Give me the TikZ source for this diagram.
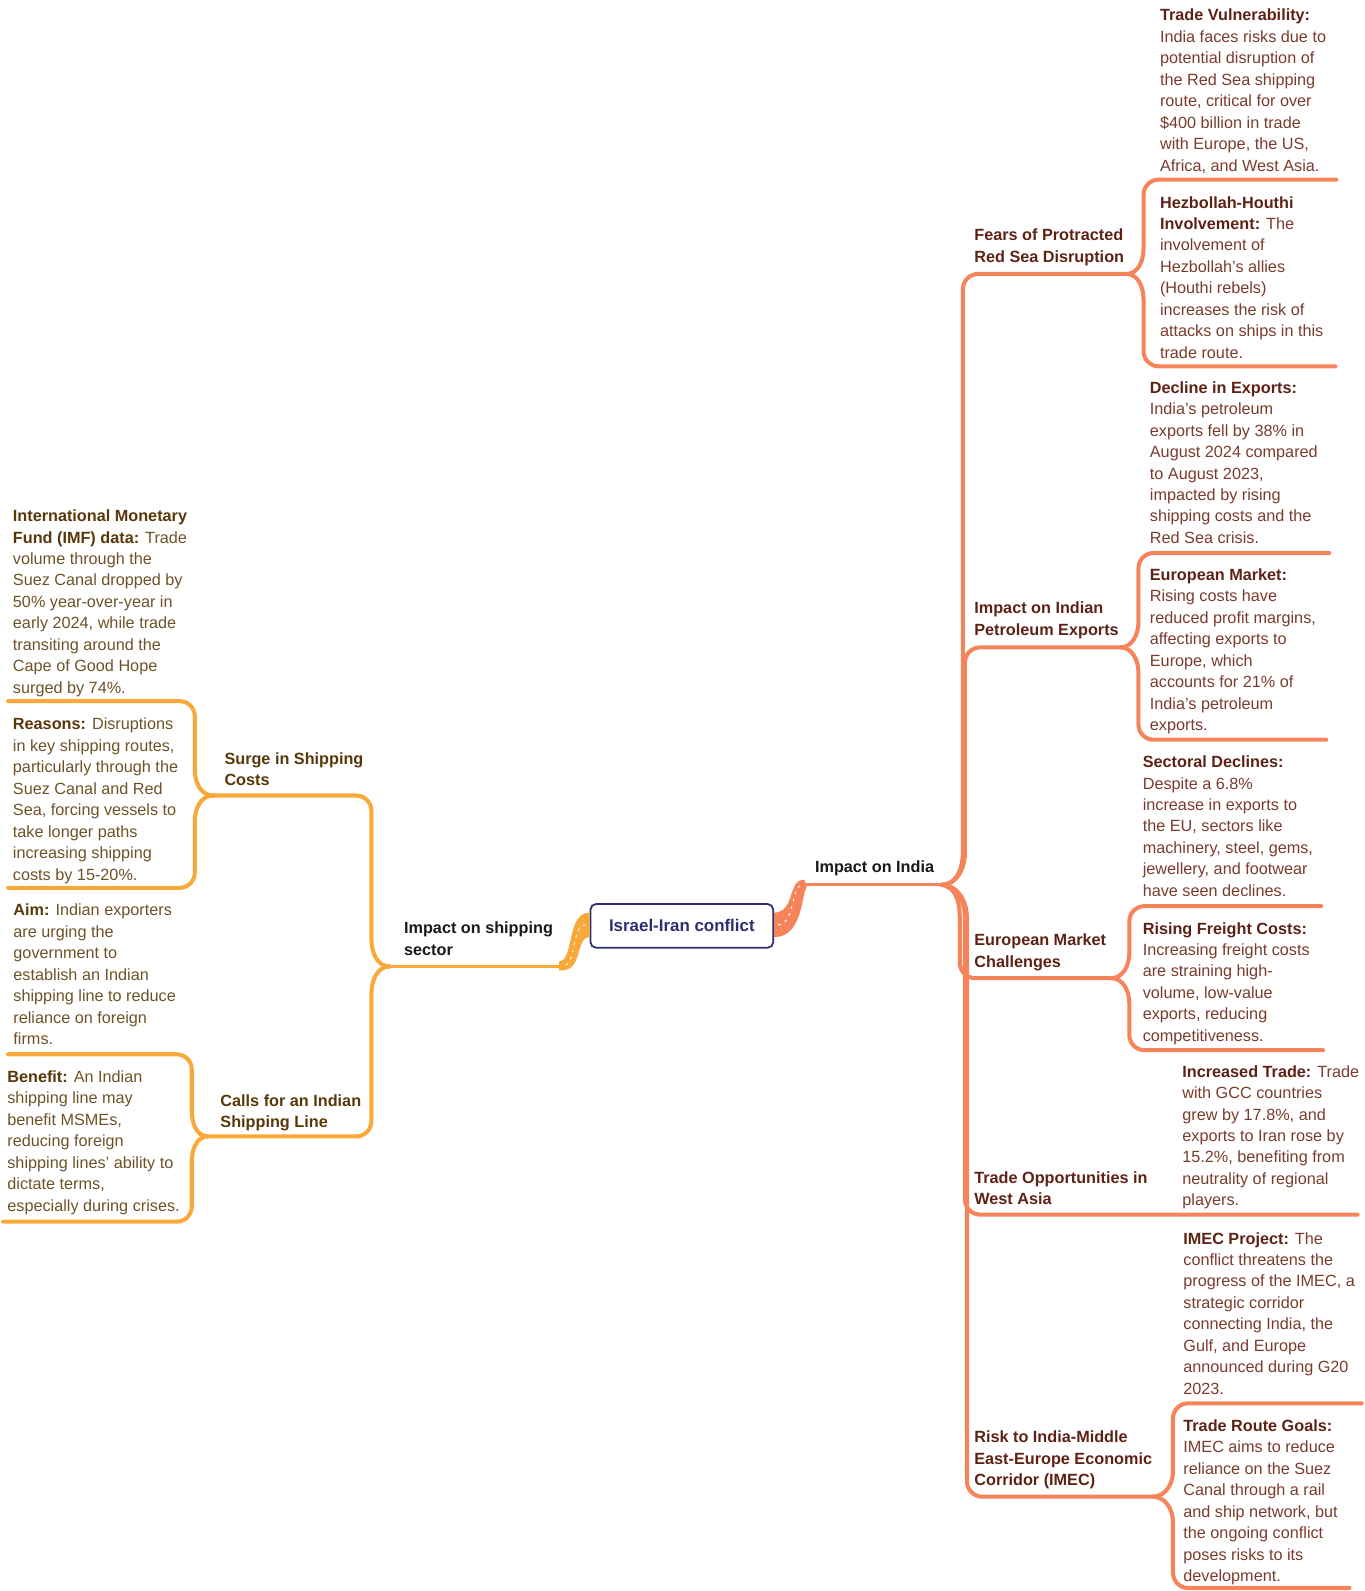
\documentclass[tikz,border=0pt]{standalone}
\usepackage{fontspec}
\setmainfont{Liberation Sans}
\usetikzlibrary{calc}

\definecolor{coral}{HTML}{F5845A}
\definecolor{amber}{HTML}{F9A93A}
\definecolor{navy}{HTML}{2C2D6E}
\definecolor{redhead}{HTML}{5E2214}
\definecolor{redtext}{HTML}{7A3B2C}
\definecolor{brownhead}{HTML}{583808}
\definecolor{browntext}{HTML}{6E5226}

\newcommand{\keyR}[1]{{\bfseries\color{redhead}#1}}
\newcommand{\keyL}[1]{{\bfseries\color{brownhead}#1}}

\begin{document}
\begin{tikzpicture}[x=0.75pt, y=-0.75pt,
    txt/.style={anchor=base west, align=left, inner sep=0pt, font=\fontsize{12pt}{15.86pt}\selectfont},
    nrows/.style={yshift=-(#1-1)*15.86pt},
    leafR/.style={txt, text=redtext},
    leafL/.style={txt, text=browntext},
    topicR/.style={txt, text=redhead, font=\fontsize{12pt}{15.86pt}\selectfont\bfseries},
    topicL/.style={txt, text=brownhead, font=\fontsize{12pt}{15.86pt}\selectfont\bfseries},
    mainlbl/.style={txt, text=black!90, font=\fontsize{12pt}{15.86pt}\selectfont\bfseries},
    lineR/.style={draw=coral, line width=3pt, line cap=round},
    lineL/.style={draw=amber, line width=3pt, line cap=round},
    stemR/.style={lineR, line width=2.2pt},
    stemL/.style={lineL, line width=2.2pt},
    hatch/.style={white, line width=0.7pt, dash pattern=on 2pt off 3.5pt}]
    \useasboundingbox (0,0) rectangle (1345,1568);

    % junctions and line ends
    \coordinate (jR) at (928,872);
    \coordinate (indiaS) at (791,872);
    \coordinate (fearsS) at (1110,270);
    \coordinate (petroS) at (1104,638);
    \coordinate (euroS) at (1095,964);
    \coordinate (tradeE) at (1338,1197);
    \coordinate (imecS) at (1136,1475);
    \coordinate (vulnE) at (1317,177);
    \coordinate (hezbE) at (1316,361);
    \coordinate (declE) at (1310,545);
    \coordinate (emktE) at (1307,729);
    \coordinate (sectE) at (1302,893);
    \coordinate (freightE) at (1304,1035);
    \coordinate (imecpE) at (1342,1383);
    \coordinate (goalsE) at (1330,1565);
    \coordinate (jL) at (384,952.5);
    \coordinate (shipS) at (552,952.5);
    \coordinate (surgeS) at (210,784);
    \coordinate (callsS) at (205,1120);
    \coordinate (imfE) at (8,691);
    \coordinate (reasE) at (8,875);
    \coordinate (aimE) at (8,1039);
    \coordinate (beneE) at (3,1204);

    % right side
    \draw[stemR] (indiaS) -- (jR);
    \draw[lineR] (jR) to[out=0,in=-90] (949,840) -- (949,285) to[out=90,in=180] (964,270) -- (fearsS);
    \draw[lineR] (fearsS) to[out=0,in=-90] (1127,245) -- (1127,192) to[out=90,in=180] (1142,177) -- (vulnE);
    \draw[lineR] (fearsS) to[out=0,in=90] (1127,295) -- (1127,346) to[out=-90,in=180] (1142,361) -- (hezbE);
    \draw[lineR] (jR) to[out=0,in=-90] (951,840) -- (951,653) to[out=90,in=180] (966,638) -- (petroS);
    \draw[lineR] (petroS) to[out=0,in=-90] (1122,613) -- (1122,560) to[out=90,in=180] (1137,545) -- (declE);
    \draw[lineR] (petroS) to[out=0,in=90] (1122,663) -- (1122,714) to[out=-90,in=180] (1137,729) -- (emktE);
    \draw[lineR] (jR) to[out=-10,in=90] (946,920) -- (946,949) to[out=-90,in=180] (961,964) -- (euroS);
    \draw[lineR] (euroS) to[out=0,in=-90] (1113,939) -- (1113,908) to[out=90,in=180] (1128,893) -- (sectE);
    \draw[lineR] (euroS) to[out=0,in=90] (1113,989) -- (1113,1020) to[out=-90,in=180] (1128,1035) -- (freightE);
    \draw[lineR] (jR) to[out=0,in=90] (951,905) -- (951,1182) to[out=-90,in=180] (966,1197) -- (tradeE);
    \draw[lineR] (jR) to[out=0,in=90] (953,905) -- (953,1460) to[out=-90,in=180] (968,1475) -- (imecS);
    \draw[lineR] (imecS) to[out=0,in=-90] (1156,1450) -- (1156,1398) to[out=90,in=180] (1171,1383) -- (imecpE);
    \draw[lineR] (imecS) to[out=0,in=90] (1156,1500) -- (1156,1550) to[out=-90,in=180] (1171,1565) -- (goalsE);

    % left side
    \draw[stemL] (shipS) -- (jL);
    \draw[lineL] (jL) to[out=180,in=-90] (366,925) -- (366,799) to[out=90,in=0] (351,784) -- (surgeS);
    \draw[lineL] (surgeS) to[out=180,in=-90] (192,759) -- (192,706) to[out=90,in=0] (177,691) -- (imfE);
    \draw[lineL] (surgeS) to[out=180,in=90] (192,809) -- (192,860) to[out=-90,in=0] (177,875) -- (reasE);
    \draw[lineL] (jL) to[out=180,in=90] (366,980) -- (366,1105) to[out=-90,in=0] (351,1120) -- (callsS);
    \draw[lineL] (callsS) to[out=180,in=-90] (189,1095) -- (189,1054) to[out=90,in=0] (174,1039) -- (aimE);
    \draw[lineL] (callsS) to[out=180,in=90] (189,1145) -- (189,1189) to[out=-90,in=0] (174,1204) -- (beneE);

    % root and its two tapered stems
    \node[draw=navy, line width=1.3pt, rounded corners=4pt, fill=white, minimum width=135pt, minimum height=32.25pt,
          text=navy, font=\fontsize{12.5pt}{15pt}\selectfont\bfseries] (root) at (672,912.5) {Israel-Iran conflict};
    \fill[coral] ($(root.east)+(0,-13)$) .. controls (784,899) and (776,866) .. ($(indiaS)+(2,-5)$)
        -- ($(indiaS)+(4,3)$) .. controls (790,878) and (792,924) .. ($(root.east)+(0,11)$) -- cycle;
    \draw[hatch] ($(root.east)+(4,-1)$) .. controls (783,911) and (780,874) .. ($(indiaS)+(-1,0)$);
    \fill[amber] ($(root.west)+(0,-13)$) .. controls (558,899) and (566,947) .. ($(shipS)+(-1,-5)$)
        -- ($(shipS)+(-1,4)$) .. controls (576,958) and (566,924) .. ($(root.west)+(0,11)$) -- cycle;
    \draw[hatch] ($(root.west)+(-4,-1)$) .. controls (563,911) and (569,951) .. ($(shipS)+(2,0)$);

    % main branch labels
    \node[mainlbl] (india) at (803,860) {Impact on India};
    \node[mainlbl, nrows=2] (ship) at (398,920.3) {Impact on shipping\\sector};

    % right subtopics
    \node[topicR, nrows=2] (fears) at (960,237.5) {Fears of Protracted\\Red Sea Disruption};
    \node[topicR, nrows=2] (petro) at (960,605) {Impact on Indian\\Petroleum Exports};
    \node[topicR, nrows=2] (euro) at (960,932) {European Market\\Challenges};
    \node[topicR, nrows=2] (trade) at (960,1166) {Trade Opportunities in\\West Asia};
    \node[topicR, nrows=3] (imec) at (960,1422) {Risk to India-Middle\\East-Europe Economic\\Corridor (IMEC)};

    % right leaves
    \node[leafR, nrows=8] (vuln) at (1143,20.5) {\keyR{Trade Vulnerability:}\\India faces risks due to\\potential disruption of\\the Red Sea shipping\\route, critical for over\\\$400 billion in trade\\with Europe, the US,\\Africa, and West Asia.};
    \node[leafR, nrows=8] (hezb) at (1143,205) {\keyR{Hezbollah-Houthi}\\\keyR{Involvement:} The\\involvement of\\Hezbollah's allies\\(Houthi rebels)\\increases the risk of\\attacks on ships in this\\trade route.};
    \node[leafR, nrows=8] (decl) at (1133,387.5) {\keyR{Decline in Exports:}\\India's petroleum\\exports fell by 38\% in\\August 2024 compared\\to August 2023,\\impacted by rising\\shipping costs and the\\Red Sea crisis.};
    \node[leafR, nrows=8] (emkt) at (1133,572) {\keyR{European Market:}\\Rising costs have\\reduced profit margins,\\affecting exports to\\Europe, which\\accounts for 21\% of\\India's petroleum\\exports.};
    \node[leafR, nrows=7] (sect) at (1126,756.5) {\keyR{Sectoral Declines:}\\Despite a 6.8\%\\increase in exports to\\the EU, sectors like\\machinery, steel, gems,\\jewellery, and footwear\\have seen declines.};
    \node[leafR, nrows=6] (freight) at (1126,920.5) {\keyR{Rising Freight Costs:}\\Increasing freight costs\\are straining high-\\volume, low-value\\exports, reducing\\competitiveness.};
    \node[leafR, nrows=7] (incr) at (1165,1061.5) {\keyR{Increased Trade:} Trade\\with GCC countries\\grew by 17.8\%, and\\exports to Iran rose by\\15.2\%, benefiting from\\neutrality of regional\\players.};
    \node[leafR, nrows=8] (imecp) at (1166,1226) {\keyR{IMEC Project:} The\\conflict threatens the\\progress of the IMEC, a\\strategic corridor\\connecting India, the\\Gulf, and Europe\\announced during G20\\2023.};
    \node[leafR, nrows=8] (goals) at (1166,1410.6) {\keyR{Trade Route Goals:}\\IMEC aims to reduce\\reliance on the Suez\\Canal through a rail\\and ship network, but\\the ongoing conflict\\poses risks to its\\development.};

    % left subtopics
    \node[topicL, nrows=2] (surge) at (221,753) {Surge in Shipping\\Costs};
    \node[topicL, nrows=2] (calls) at (217,1090.5) {Calls for an Indian\\Shipping Line};

    % left leaves
    \node[leafL, nrows=9] (imf) at (12.5,514) {\keyL{International Monetary}\\\keyL{Fund (IMF) data:} Trade\\volume through the\\Suez Canal dropped by\\50\% year-over-year in\\early 2024, while trade\\transiting around the\\Cape of Good Hope\\surged by 74\%.};
    \node[leafL, nrows=8] (reas) at (12.5,719.3) {\keyL{Reasons:} Disruptions\\in key shipping routes,\\particularly through the\\Suez Canal and Red\\Sea, forcing vessels to\\take longer paths\\increasing shipping\\costs by 15-20\%.};
    \node[leafL, nrows=7] (aim) at (13,902.6) {\keyL{Aim:} Indian exporters\\are urging the\\government to\\establish an Indian\\shipping line to reduce\\reliance on foreign\\firms.};
    \node[leafL, nrows=7] (bene) at (7,1066.8) {\keyL{Benefit:} An Indian\\shipping line may\\benefit MSMEs,\\reducing foreign\\shipping lines' ability to\\dictate terms,\\especially during crises.};
\end{tikzpicture}
\end{document}
